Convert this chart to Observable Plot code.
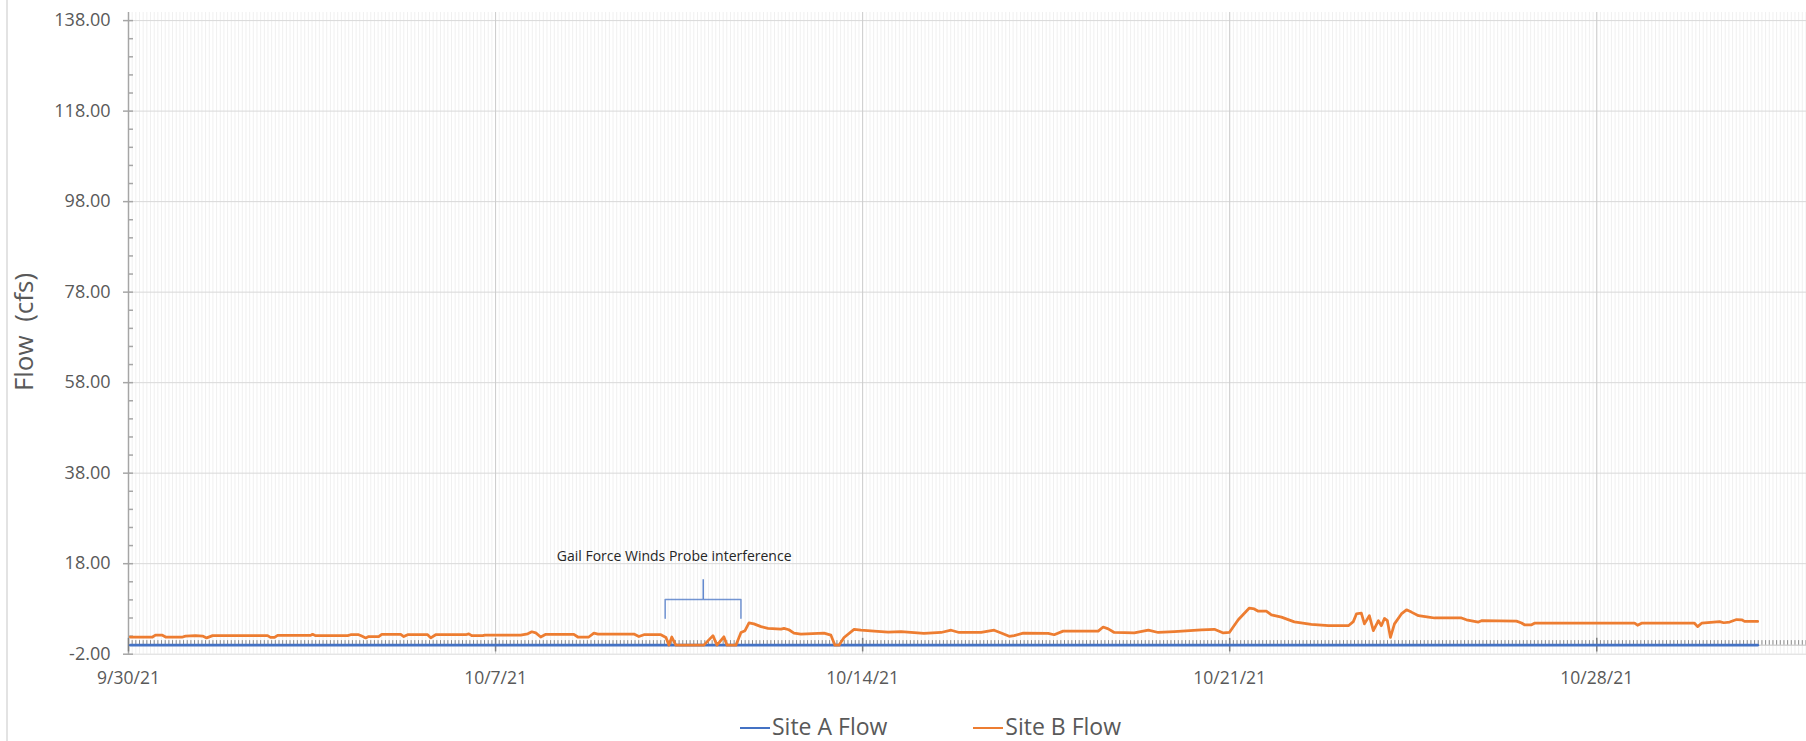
<!DOCTYPE html>
<html><head><meta charset="utf-8">
<script src="https://cdn.jsdelivr.net/npm/d3@7"></script>
<script src="https://cdn.jsdelivr.net/npm/@observablehq/plot@0.6"></script>
<style>
html,body{margin:0;padding:0;background:#fff;}
body{width:1806px;height:741px;position:relative;overflow:hidden;font-family:"Open Sans",sans-serif;}
#chart{position:absolute;left:0;top:0;}
#chart svg text{white-space:pre;}
.border{position:absolute;left:6px;top:0;width:2px;height:741px;background:#e3e3e3;}
.ylabel{position:absolute;left:23px;top:332px;transform:translate(-50%,-50%) rotate(-90deg);font-size:26px;line-height:26px;color:#595959;white-space:pre;}
.legend{position:absolute;top:715px;left:740px;display:flex;align-items:center;font-size:23px;line-height:23px;color:#595959;}
.legend .item{display:flex;align-items:center;margin-right:86px;}
.legend .sw{display:inline-block;width:30px;height:2.5px;margin-right:2px;margin-top:3px;}
</style></head><body>
<div class="border"></div>
<div id="chart"></div>
<div class="ylabel" id="ylabel"></div>
<div class="legend" id="legend"></div>
<script>
// ---- data ----
const seriesNames = ["Site A Flow", "Site B Flow"];
const seriesColors = ["#4472C4", "#ED7D31"];

const siteATime = ["09-30 00:50","10-04 00:00","10-07 00:00","10-11 00:00","10-14 00:00","10-18 00:00","10-21 00:00","10-25 00:00","10-28 00:00","10-31 01:40"];
const siteAFlow = [0,0,0,0,0,0,0,0,0,0];

const siteBTime = [
"09-30 00:50","09-30 11:00","09-30 12:20","09-30 15:30","09-30 17:00","10-01 00:45","10-01 02:05","10-01 06:40","10-01 09:55","10-01 11:45",
"10-01 14:30","10-02 15:40","10-02 17:00","10-02 18:50","10-02 20:15","10-03 11:20","10-03 12:15","10-03 13:40","10-04 04:20","10-04 05:40",
"10-04 09:20","10-04 10:45","10-04 12:35","10-04 13:55","10-04 18:30","10-04 19:55","10-05 04:35","10-05 06:00","10-05 07:45","10-05 16:55",
"10-05 18:20","10-05 20:35","10-06 10:20","10-06 11:45","10-06 13:05","10-06 18:10","10-06 19:05","10-07 11:30","10-07 14:45","10-07 16:35",
"10-07 18:25","10-07 20:40","10-07 23:00","10-08 11:50","10-08 13:40","10-08 18:40","10-08 21:00","10-08 22:50","10-09 15:20","10-09 17:35",
"10-09 19:55","10-10 03:40","10-10 06:00","10-10 07:20","10-10 08:40","10-10 10:30","10-10 23:20","10-11 03:30","10-11 05:20","10-11 08:30",
"10-11 09:55","10-11 14:00","10-11 16:20","10-11 18:10","10-11 20:00","10-11 22:15","10-12 01:30","10-12 04:40","10-12 10:40","10-12 12:00",
"10-12 14:15","10-12 16:35","10-12 19:45","10-13 06:20","10-13 09:30","10-13 11:20","10-13 13:10","10-13 15:30","10-13 20:05","10-13 23:15",
"10-14 05:15","10-14 11:40","10-14 17:35","10-15 04:05","10-15 11:55","10-15 16:30","10-15 20:10","10-16 06:15","10-16 12:10","10-16 15:25",
"10-16 19:05","10-16 21:20","10-17 01:30","10-17 12:55","10-17 15:40","10-17 19:45","10-18 11:50","10-18 14:05","10-18 16:25","10-18 19:10",
"10-19 04:20","10-19 10:45","10-19 15:20","10-19 22:40","10-20 11:00","10-20 17:00","10-20 21:05","10-20 23:50","10-21 03:55","10-21 09:00",
"10-21 11:15","10-21 13:05","10-21 16:45","10-21 19:05","10-21 23:40","10-22 05:35","10-22 13:20","10-22 21:10","10-23 06:20","10-23 08:35",
"10-23 10:00","10-23 12:15","10-23 13:40","10-23 15:55","10-23 17:45","10-23 20:05","10-23 21:25","10-23 22:50","10-24 00:10","10-24 01:35",
"10-24 03:25","10-24 06:35","10-24 08:55","10-24 11:10","10-24 14:25","10-24 19:00","10-24 21:45","10-25 10:05","10-25 12:20","10-25 17:50",
"10-25 19:15","10-26 11:15","10-26 13:35","10-26 14:55","10-26 18:10","10-26 19:30","10-28 17:20","10-28 18:40","10-28 20:30","10-29 20:45",
"10-29 22:10","10-30 00:00","10-30 08:15","10-30 10:05","10-30 12:50","10-30 16:00","10-30 18:20","10-30 19:40","10-31 01:40"];
const siteBFlow = [
1.8,1.8,2.2,2.2,1.8,1.8,2.0,2.1,2.0,1.6,
2.1,2.1,1.7,1.7,2.15,2.15,2.4,2.1,2.1,2.3,
2.3,2.0,1.6,1.9,1.9,2.4,2.4,1.9,2.3,2.3,
1.6,2.3,2.3,2.5,2.1,2.1,2.2,2.2,2.5,2.95,
2.7,1.8,2.4,2.4,1.8,1.8,2.65,2.45,2.45,1.9,
2.3,2.3,1.7,0,1.8,0,0,2.1,0,1.85,
0,0,2.8,3.2,4.9,4.7,4.1,3.7,3.55,3.7,
3.4,2.65,2.45,2.65,2.2,0,0,1.7,3.5,3.3,
3.1,2.9,3.0,2.6,2.8,3.3,2.8,2.8,3.3,2.7,
1.95,2.1,2.65,2.6,2.3,3.1,3.1,4.0,3.6,2.8,
2.7,3.3,2.8,3.0,3.4,3.5,2.7,2.8,5.6,8.2,
8.0,7.5,7.5,6.7,6.2,5.15,4.6,4.3,4.3,5.2,
6.9,7.1,4.7,6.5,3.2,5.4,4.3,5.9,5.4,1.7,
4.7,6.9,7.8,7.3,6.5,6.2,6.0,6.0,5.6,5.1,
5.4,5.3,4.9,4.5,4.5,4.85,4.85,4.4,4.85,4.85,
4.1,4.85,5.2,4.95,5.1,5.65,5.6,5.25,5.25];

const xStart = "09-30 00:00";
const xEnd = "11-01 00:00";
const weekTicks = ["09-30 00:00","10-07 00:00","10-14 00:00","10-21 00:00","10-28 00:00"];
const yTicks = [-2, 18, 38, 58, 78, 98, 118, 138];
const yLabel = "Flow  (cfs)";

const noteText = "Gail Force Winds Probe interference";
const noteTextAt = {t: "10-08 04:00", v: 19.5};
const bracketFrom = "10-10 05:38", bracketTo = "10-11 16:18", bracketStem = "10-10 23:03";
const bracketLow = 5.95, bracketHigh = 10.09, stemTop = 14.44;

// ---- build ----
const parse = s => new Date(`2021-${s.replace(" ", "T")}:00Z`);
const t0 = parse(xStart), t1 = parse(xEnd);
const rowsA = siteATime.map((t, i) => ({t: parse(t), v: siteAFlow[i]}));
const rowsB = siteBTime.map((t, i) => ({t: parse(t), v: siteBFlow[i]}));
const weeks = weekTicks.map(parse);
const DAY = 86400000;
const minorX = d3.range(0, 32.0001, 0.07).map(d => new Date(+t0 + d * DAY));
const minorY = d3.range(-2, 138.1, 4).filter(v => !yTicks.includes(v));
const fmt = d3.utcFormat("%-m/%-d/%y");

const bracket = [
  {t: parse(bracketFrom), v: bracketLow},
  {t: parse(bracketFrom), v: bracketHigh},
  {t: parse(bracketTo), v: bracketHigh},
  {t: parse(bracketTo), v: bracketLow}
];

const chart = Plot.plot({
  width: 1806,
  height: 700,
  marginLeft: 128,
  marginRight: 0,
  marginTop: 12,
  marginBottom: 46.3,
  x: {type: "utc", domain: [t0, t1]},
  y: {domain: [-2, 139.79]},
  style: {fontFamily: "'Open Sans', sans-serif", fontSize: "18px", color: "#595959", background: "transparent", overflow: "visible"},
  marks: [
    Plot.gridX(minorX, {stroke: "#f0f0f0", strokeOpacity: 1}),
    Plot.gridY(yTicks, {stroke: "#d9d9d9", strokeOpacity: 1}),
    Plot.gridX(weeks, {stroke: "#cccccc", strokeOpacity: 1}),
    Plot.ruleX([t0], {stroke: "#a6a6a6", strokeWidth: 1.5}),
    Plot.ruleY([0], {stroke: "#bfbfbf", strokeWidth: 1}),
    Plot.ruleX(minorX, {y1: 0, y2: 1, stroke: "#8c8c8c", strokeWidth: 1}),
    Plot.ruleX(weeks, {y1: -1.5, y2: 1.5, stroke: "#808080", strokeWidth: 1.5}),
    Plot.axisY(yTicks, {tickSize: 10, dx: 5, fill: "none", stroke: "#a6a6a6", strokeWidth: 1.5, label: null}),
    Plot.axisY(minorY, {tickSize: 5, dx: 5, fill: "none", stroke: "#a6a6a6", strokeWidth: 1.5, label: null}),
    Plot.axisY(yTicks, {tickSize: 0, tickPadding: 18, tickFormat: d => d.toFixed(2), fill: "#595959", fontSize: 18, label: null}),
    Plot.axisX(weeks, {tickSize: 0, tickPadding: 17, tickFormat: fmt, fill: "#595959", fontSize: 17.5, label: null}),
    Plot.line(rowsA, {x: "t", y: "v", stroke: seriesColors[0], strokeWidth: 2.75}),
    Plot.line(rowsB, {x: "t", y: "v", stroke: seriesColors[1], strokeWidth: 2.75, strokeLinejoin: "round"}),
    Plot.line(bracket, {x: "t", y: "v", stroke: "#4472C4", strokeOpacity: 0.75, strokeWidth: 1.5}),
    Plot.ruleX([parse(bracketStem)], {y1: bracketHigh, y2: stemTop, stroke: "#4472C4", strokeOpacity: 0.85, strokeWidth: 1.5}),
    Plot.text([noteText], {text: d => d, x: parse(noteTextAt.t), y: noteTextAt.v, textAnchor: "start", fontSize: 14, fill: "#262626"})
  ]
});
document.getElementById("chart").appendChild(chart);
document.getElementById("ylabel").textContent = yLabel;

const legend = document.getElementById("legend");
seriesNames.forEach((name, i) => {
  const item = document.createElement("span");
  item.className = "item";
  const sw = document.createElement("span");
  sw.className = "sw";
  sw.style.background = seriesColors[i];
  item.appendChild(sw);
  item.appendChild(document.createTextNode(name));
  legend.appendChild(item);
});
</script>
</body></html>
